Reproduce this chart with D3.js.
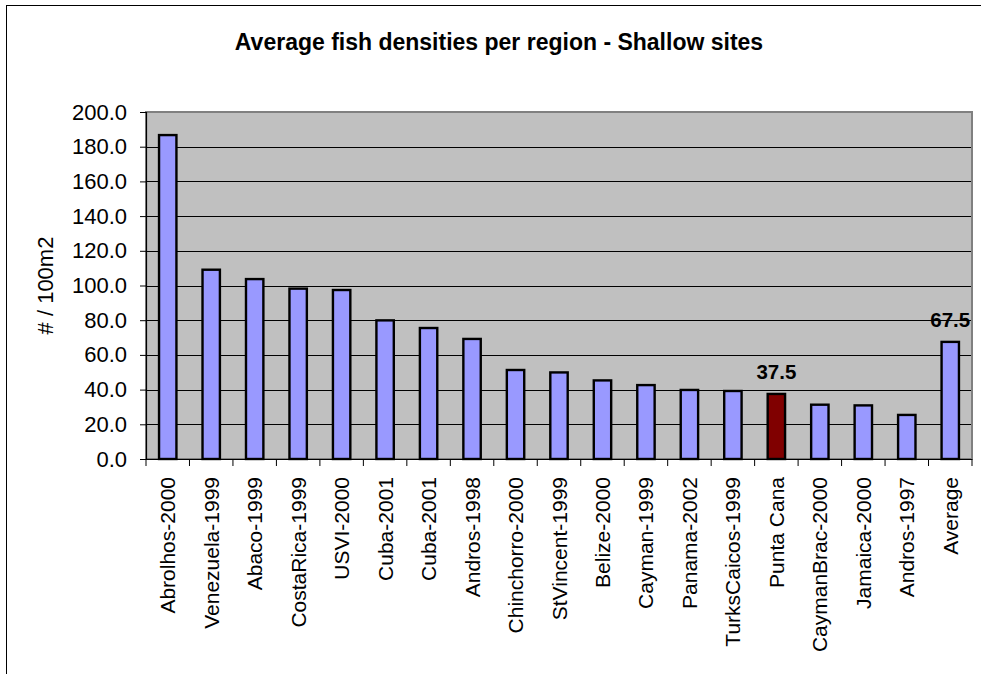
<!DOCTYPE html>
<html>
<head>
<meta charset="utf-8">
<script src="https://cdn.jsdelivr.net/npm/d3@7"></script>
<style>
  html, body { margin: 0; padding: 0; background: #fff; }
  svg { display: block; font-family: "Liberation Sans", Arial, sans-serif; }
</style>
</head>
<body>
<svg id="chart" width="981" height="674"></svg>
<script>
// Regions surveyed, in display order
const regions = [
  "Abrolhos-2000", "Venezuela-1999", "Abaco-1999", "CostaRica-1999", "USVI-2000",
  "Cuba-2001", "Cuba-2001", "Andros-1998", "Chinchorro-2000", "StVincent-1999",
  "Belize-2000", "Cayman-1999", "Panama-2002", "TurksCaicos-1999", "Punta Cana",
  "CaymanBrac-2000", "Jamaica-2000", "Andros-1997", "Average"
];
// Average fish density (# / 100m2) for each region
const densities = [
  186.7, 109.1, 103.7, 98.2, 97.4,
  79.9, 75.5, 69.2, 51.3, 49.9,
  45.3, 42.6, 39.8, 39.2, 37.5,
  31.3, 30.9, 25.4, 67.5
];
// Bars that carry a value label
const labelled = ["Punta Cana", "Average"];
const highlighted = "Punta Cana";
const yTicks = [0, 20, 40, 60, 80, 100, 120, 140, 160, 180, 200];

const data = regions.map((r, i) => ({ key: i, region: r, value: densities[i] }));

const svg = d3.select("#chart");
const plot = { left: 146, right: 972, top: 112, bottom: 459 };

// Outer chart frame
svg.append("rect")
  .attr("x", 6.5).attr("y", 5.5)
  .attr("width", 1000).attr("height", 700)
  .attr("fill", "#fff").attr("stroke", "#000").attr("stroke-width", 1);

const x = d3.scaleBand()
  .domain(data.map(d => d.key))
  .range([plot.left, plot.right])
  .paddingInner(0.6)
  .paddingOuter(0.3);

const y = d3.scaleLinear().domain([0, 200]).range([plot.bottom, plot.top]);

// Plot area background
svg.append("rect")
  .attr("x", plot.left).attr("y", plot.top)
  .attr("width", plot.right - plot.left).attr("height", plot.bottom - plot.top)
  .attr("fill", "#C0C0C0");

// Horizontal gridlines
svg.append("g")
  .selectAll("line")
  .data(yTicks.filter(t => t > 0 && t < 200))
  .join("line")
  .attr("x1", plot.left).attr("x2", plot.right)
  .attr("y1", d => Math.round(y(d)) + 0.5).attr("y2", d => Math.round(y(d)) + 0.5)
  .attr("stroke", "#000").attr("stroke-width", 1);

// Plot area border
svg.append("rect")
  .attr("x", plot.left).attr("y", plot.top)
  .attr("width", plot.right - plot.left).attr("height", plot.bottom - plot.top)
  .attr("fill", "none").attr("stroke", "#808080").attr("stroke-width", 2);

// Bars
svg.append("g")
  .selectAll("rect")
  .data(data)
  .join("rect")
  .attr("x", d => x(d.key))
  .attr("y", d => y(d.value))
  .attr("width", x.bandwidth())
  .attr("height", d => y(0) - y(d.value))
  .attr("fill", d => d.region === highlighted ? "#800000" : "#9999FF")
  .attr("stroke", "#000").attr("stroke-width", 2.4);

// Value labels
svg.append("g")
  .selectAll("text")
  .data(data.filter(d => labelled.includes(d.region)))
  .join("text")
  .attr("x", d => x(d.key) + x.bandwidth() / 2)
  .attr("y", d => y(d.value) - 15)
  .attr("text-anchor", "middle")
  .attr("font-size", 20.5).attr("font-weight", "bold")
  .attr("fill", "#000")
  .text(d => d.value.toFixed(1));

// Y axis
const yAxis = svg.append("g")
  .attr("transform", `translate(${plot.left},0)`)
  .call(d3.axisLeft(y).tickValues(yTicks).tickFormat(d3.format(".1f")).tickSize(6).tickPadding(13));
yAxis.select(".domain").attr("stroke", "#000").attr("stroke-width", 1.2);
yAxis.selectAll(".tick line").attr("stroke", "#000");
yAxis.selectAll(".tick text")
  .attr("font-size", 22).attr("fill", "#000")
  .attr("font-family", "'Liberation Sans', Arial, sans-serif");

// X axis with ticks at category boundaries
const step = x.step();
const xAxisG = svg.append("g");
xAxisG.append("line")
  .attr("x1", plot.left).attr("x2", plot.right)
  .attr("y1", plot.bottom + 0.5).attr("y2", plot.bottom + 0.5)
  .attr("stroke", "#000").attr("stroke-width", 1.2);
xAxisG.selectAll("line.tick")
  .data(d3.range(regions.length + 1))
  .join("line")
  .attr("class", "tick")
  .attr("x1", i => plot.left + i * step).attr("x2", i => plot.left + i * step)
  .attr("y1", plot.bottom).attr("y2", plot.bottom + 7)
  .attr("stroke", "#000").attr("stroke-width", 1);

xAxisG.selectAll("text")
  .data(data)
  .join("text")
  .attr("transform", d => `translate(${x(d.key) + x.bandwidth() / 2 + 7.5},${plot.bottom + 18}) rotate(-90)`)
  .attr("text-anchor", "end")
  .attr("font-size", 21).attr("fill", "#000")
  .text(d => d.region);

// Y axis title
svg.append("text")
  .attr("transform", `translate(53,${(plot.top + plot.bottom) / 2}) rotate(-90)`)
  .attr("text-anchor", "middle")
  .attr("font-size", 22).attr("fill", "#000")
  .text("# / 100m2");

// Chart title
svg.append("text")
  .attr("x", 499).attr("y", 50)
  .attr("text-anchor", "middle")
  .attr("font-size", 23).attr("font-weight", "bold").attr("fill", "#000")
  .text("Average fish densities per region - Shallow sites");
</script>
</body>
</html>
